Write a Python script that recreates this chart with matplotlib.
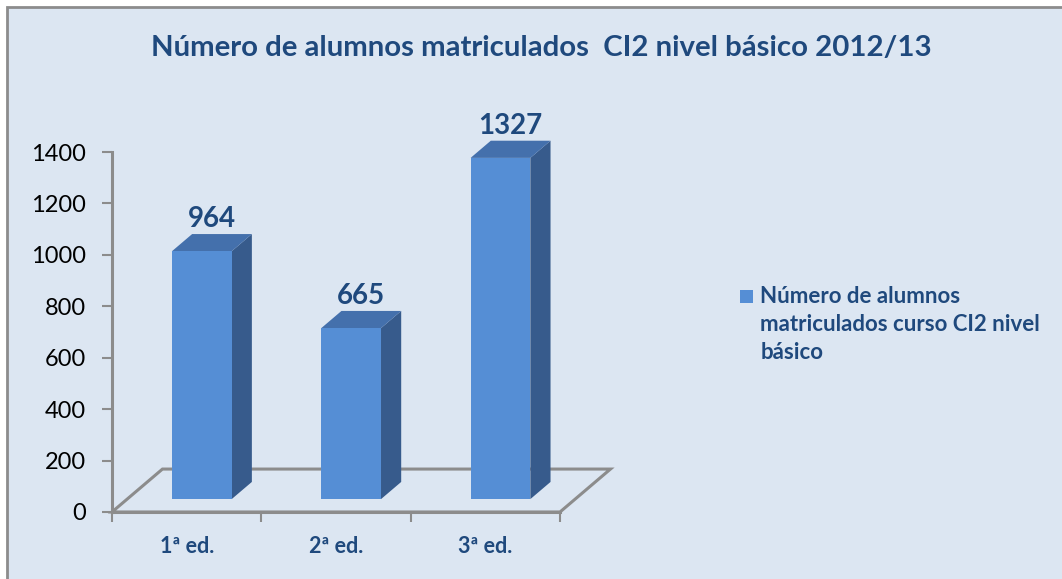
import matplotlib.pyplot as plt
import numpy as np
from matplotlib.patches import Polygon, Rectangle
from matplotlib.legend_handler import HandlerPatch

categories = ["1ª ed.", "2ª ed.", "3ª ed."]
values = [964, 665, 1327]
title = "Número de alumnos matriculados  CI2 nivel básico 2012/13"
series_label = "Número de alumnos\nmatriculados curso CI2 nivel\nbásico"

plt.rcParams["font.family"] = ["Lato", "DejaVu Sans"]

W, H = 1062, 579
fig = plt.figure(figsize=(W / 100, H / 100), dpi=100)
fig.patch.set_facecolor("white")

# chart area background (only top/left border visible, rest runs off the image)
bg = Rectangle((7 / W, -0.1), 1.2, (H - 7) / H + 0.1, transform=fig.transFigure,
               facecolor="#DCE6F2", edgecolor="#8C8C8C", linewidth=2.0, zorder=-10)
fig.patches.append(bg)

navy = "#1F497D"
front_c = "#558ED5"
side_c = "#375B8C"
top_c = "#4470AC"
grid_c = "#8C8C8C"

# axes placed so that the front axis frame matches the reference
ax = fig.add_axes([112 / W, (H - 512) / H, 448 / W, 360 / H])
ax.set_facecolor("none")
ax.set_xlim(-0.5, 2.5)
ax.set_ylim(0, 1400)

# 3D projection offsets (data units)
DX, DY = 0.338, 167.0      # floor depth
f0, bd = 0.3, 0.4          # bar front depth fraction, bar depth fraction
w = 0.4

x = np.arange(len(categories))
fx = x + f0 * DX
fy = f0 * DY
bdx, bdy = bd * DX, bd * DY

# floor outline
floor = Polygon([(-0.5, 0), (-0.5 + DX, DY), (2.5 + DX, DY), (2.5, 0)], closed=True,
                fill=False, edgecolor=grid_c, linewidth=2.2, clip_on=False, zorder=1)
ax.add_patch(floor)

bars = ax.bar(fx, values, width=w, bottom=fy, color=front_c, zorder=3,
              label=series_label, linewidth=0)

for xi, v in zip(fx, values):
    xl, xr = xi - w / 2, xi + w / 2
    top = fy + v
    side = Polygon([(xr, fy), (xr + bdx, fy + bdy), (xr + bdx, top + bdy), (xr, top)],
                   closed=True, facecolor=side_c, edgecolor="none", zorder=2, clip_on=False)
    topf = Polygon([(xl, top), (xr, top), (xr + bdx, top + bdy), (xl + bdx, top + bdy)],
                   closed=True, facecolor=top_c, edgecolor="none", zorder=2, clip_on=False)
    ax.add_patch(side)
    ax.add_patch(topf)
    ax.text(xi + bdx / 2, top + bdy + 58, str(v), ha="center", va="center",
            fontsize=20, fontweight="bold", color=navy, zorder=5, clip_on=False)

for s in ["top", "right"]:
    ax.spines[s].set_visible(False)
for s in ["left", "bottom"]:
    ax.spines[s].set_color(grid_c)
    ax.spines[s].set_linewidth(2.2)

ax.set_yticks(np.arange(0, 1401, 200))
ax.tick_params(axis="y", direction="out", length=7, width=1.5, color=grid_c,
               labelsize=17, labelcolor="black", pad=12)
ax.set_xticks([-0.5, 0.5, 1.5, 2.5])
ax.set_xticklabels([])
ax.tick_params(axis="x", direction="out", length=7, width=1.5, color=grid_c)
for xi, c in zip(x, categories):
    ax.text(xi, -136, c, ha="center", va="center", fontsize=15.5,
            fontweight="bold", color=navy, clip_on=False)

fig.text(541 / W, 1 - 48 / H, title, ha="center", va="center", fontsize=21.2,
         fontweight="bold", color=navy)

leg_fs = 16


def top_square(legend, orig_handle, xdescent, ydescent, width, height, fontsize):
    # square aligned with the first text line
    s = 0.59 * fontsize
    shift = 1.31 * fontsize
    return Rectangle((-xdescent, -ydescent + (height - s) / 2 + shift), s, s)


leg = fig.legend(handles=[bars[0]], labels=[series_label], loc="upper left",
                 bbox_to_anchor=(740 / W, 1 - 286 / H), frameon=False,
                 borderpad=0, borderaxespad=0,
                 handlelength=0.59, handleheight=0.59, handletextpad=0.32,
                 prop={"size": leg_fs, "weight": "bold"}, labelcolor=navy,
                 handler_map={bars[0]: HandlerPatch(patch_func=top_square)})
leg.get_texts()[0].set_linespacing(1.42)

fig.savefig("out.png", dpi=100)
